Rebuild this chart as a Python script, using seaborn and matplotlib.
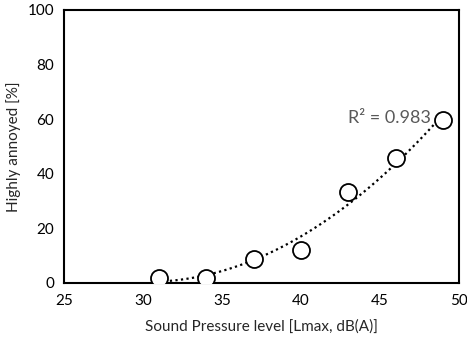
import seaborn as sns
import matplotlib.pyplot as plt
import pandas as pd
import numpy as np

sns.set_style("white")
plt.rcParams['font.family'] = ['Lato', 'DejaVu Sans']

# data
spl = [31, 34, 37, 40, 43, 46, 49]
annoyed = [1.7, 1.7, 8.8, 12.2, 33.3, 45.7, 59.6]
r2_label = "R² = 0.983"

df = pd.DataFrame({"SPL": spl, "HA": annoyed})

fig, ax = plt.subplots(figsize=(4.67, 3.42), dpi=100)

# dotted polynomial trendline
sns.regplot(data=df, x="SPL", y="HA", order=2, ci=None, scatter=False,
            color="black", line_kws={"linestyle": (0, (1, 1.5)), "linewidth": 1.6}, ax=ax)
sns.scatterplot(data=df, x="SPL", y="HA", s=150, facecolor="white",
                edgecolor="black", linewidth=1.3, ax=ax, zorder=3)

ax.text(48.2, 60.5, r2_label, ha="right", va="center", fontsize=13, color="#595959")

ax.set_xlim(25, 50)
ax.set_ylim(0, 100)
ax.set_xticks(range(25, 51, 5))
ax.set_yticks(range(0, 101, 20))
ax.tick_params(direction="in", length=4, width=1.3, labelsize=11, colors="black")
ax.tick_params(axis="x", pad=8)
ax.tick_params(axis="y", pad=7)
for s in ax.spines.values():
    s.set_linewidth(1.5)
    s.set_color("black")
    s.set_visible(True)

ax.set_xlabel("Sound Pressure level [Lmax, dB(A)]", fontsize=11, labelpad=8)
ax.set_ylabel("Highly annoyed [%]", fontsize=11, labelpad=5)

plt.subplots_adjust(left=0.137, right=0.983, top=0.971, bottom=0.173)
plt.savefig("out.png", dpi=100)
plt.close()
